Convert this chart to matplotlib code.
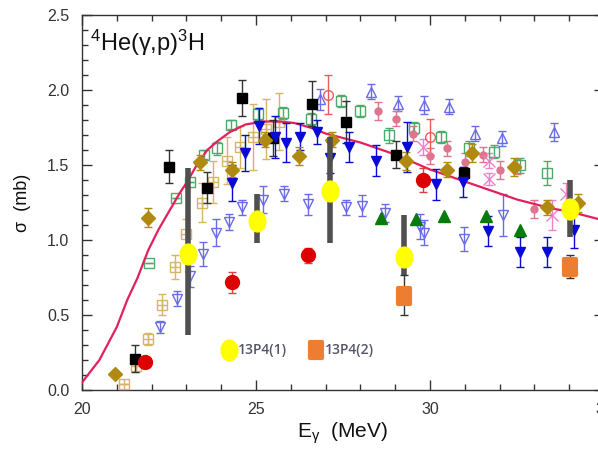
import matplotlib
matplotlib.use("Agg")
import matplotlib.pyplot as plt
from matplotlib.path import Path
from matplotlib.markers import MarkerStyle
from matplotlib.transforms import Affine2D
from matplotlib.ticker import MultipleLocator, FormatStrFormatter

plt.rcParams['font.family'] = ['Liberation Sans', 'DejaVu Sans']
plt.rcParams['mathtext.default'] = 'regular'

# ---------------- data ----------------
# theory curve
E_curve = [20.0, 20.5, 21.0, 21.3, 21.6, 21.9, 22.2, 22.5, 22.8, 23.0, 23.3, 23.6, 23.9,
           24.25, 24.7, 25.2, 25.7, 26.1, 26.55, 27.0, 27.5, 28.0, 28.5, 29.0, 29.5,
           30.0, 30.5, 31.0, 31.5, 32.0, 32.5, 33.0, 33.5, 34.0, 34.5, 35.0]
S_curve = [0.05, 0.20, 0.42, 0.60, 0.75, 0.93, 1.07, 1.19, 1.31, 1.38, 1.50, 1.60, 1.66,
           1.72, 1.77, 1.79, 1.79, 1.78, 1.75, 1.71, 1.68, 1.65, 1.61, 1.57, 1.52,
           1.47, 1.43, 1.39, 1.35, 1.31, 1.27, 1.24, 1.21, 1.19, 1.16, 1.13]

# black filled squares
E_blk = [21.52, 22.50, 23.60, 24.60, 25.50, 26.60, 27.60, 29.02, 30.98]
S_blk = [0.21, 1.49, 1.35, 1.95, 1.68, 1.91, 1.79, 1.57, 1.45]
D_blk = [0.09, 0.11, 0.10, 0.12, 0.12, 0.15, 0.14, 0.09, 0.04]

# red filled circles
E_red = [21.80, 24.30, 26.50, 29.80]
S_red = [0.19, 0.72, 0.90, 1.40]
D_red = [0.0, 0.07, 0.05, 0.08]

# gold diamonds
E_dia = [20.95, 21.90, 23.38, 24.30, 25.26, 26.24, 27.18, 29.31, 30.50, 31.20, 32.40, 33.36, 34.25]
S_dia = [0.11, 1.15, 1.52, 1.47, 1.67, 1.56, 1.67, 1.53, 1.47, 1.58, 1.49, 1.22, 1.25]
D_dia = [0.0, 0.065, 0.05, 0.05, 0.05, 0.06, 0.05, 0.06, 0.05, 0.06, 0.06, 0.05, 0.06]

# blue filled down triangles
E_bdt = [24.30, 24.68, 25.09, 25.55, 25.85, 26.26, 26.76, 27.13, 27.68, 28.45, 29.34,
         30.17, 30.95, 31.67, 32.59, 33.36, 34.14]
S_bdt = [1.38, 1.58, 1.76, 1.69, 1.65, 1.69, 1.72, 1.55, 1.62, 1.53, 1.62,
         1.37, 1.39, 1.06, 0.92, 0.92, 1.07]
D_bdt = [0.12, 0.12, 0.12, 0.14, 0.13, 0.09, 0.08, 0.10, 0.10, 0.10, 0.17,
         0.10, 0.10, 0.10, 0.10, 0.10, 0.12]

# blue open down triangles
E_odt = [22.24, 22.73, 23.10, 23.48, 23.85, 24.22, 24.60, 25.20, 25.80, 26.50, 27.60,
         28.05, 28.70, 29.70, 29.83, 30.98, 32.10]
S_odt = [0.42, 0.61, 0.76, 0.91, 1.05, 1.12, 1.22, 1.27, 1.31, 1.24, 1.22,
         1.23, 1.18, 1.09, 1.05, 1.01, 1.17]
D_odt = [0.04, 0.05, 0.07, 0.08, 0.09, 0.05, 0.05, 0.09, 0.05, 0.07, 0.05,
         0.07, 0.06, 0.08, 0.08, 0.08, 0.14]

# blue open up triangles
E_out = [26.84, 28.30, 29.08, 29.83, 30.55, 31.30, 32.07, 33.56]
S_out = [1.94, 1.99, 1.91, 1.90, 1.89, 1.71, 1.68, 1.72]
D_out = [0.07, 0.05, 0.05, 0.06, 0.05, 0.05, 0.05, 0.06]

# green open squares
E_gsq = [21.93, 22.70, 23.10, 23.50, 23.88, 24.28, 25.05, 25.78, 26.58, 27.45, 28.00,
         28.82, 29.55, 30.32, 31.12, 31.84, 32.59, 33.36]
S_gsq = [0.85, 1.28, 1.39, 1.57, 1.61, 1.77, 1.84, 1.85, 1.81, 1.93, 1.86,
         1.70, 1.75, 1.69, 1.61, 1.59, 1.50, 1.45]
D_gsq = [0.0, 0.0, 0.0, 0.03, 0.04, 0.03, 0.04, 0.04, 0.04, 0.04, 0.04,
         0.05, 0.04, 0.04, 0.05, 0.04, 0.05, 0.08]

# tan crossed squares
E_tsq = [21.20, 21.55, 21.90, 22.30, 22.67, 23.00, 23.45, 23.77, 24.17, 24.54, 24.91, 25.30, 25.66]
S_tsq = [0.04, 0.16, 0.34, 0.57, 0.82, 1.04, 1.25, 1.39, 1.53, 1.62, 1.69, 1.74, 1.79]
D_tsq = [0.0, 0.04, 0.04, 0.07, 0.08, 0.10, 0.13, 0.14, 0.16, 0.14, 0.22, 0.20, 0.19]

# pink filled circles
E_pci = [28.50, 29.02, 29.51, 30.00, 30.50, 31.00, 31.52, 32.00, 32.50, 32.99]
S_pci = [1.86, 1.81, 1.71, 1.56, 1.61, 1.52, 1.57, 1.47, 1.49, 1.21]
D_pci = [0.06, 0.05, 0.05, 0.05, 0.05, 0.06, 0.05, 0.06, 0.05, 0.06]

# pink crosses
E_pxx = [29.80, 31.70, 31.70, 33.50, 33.90]
S_pxx = [1.62, 1.53, 1.41, 1.17, 1.31]
D_pxx = [0.05, 0.05, 0.04, 0.10, 0.07]

# red open circles
E_roc = [27.07, 30.00]
S_roc = [1.97, 1.69]
D_roc = [0.13, 0.12]

# green filled up triangles
E_gtr = [28.59, 29.60, 30.40, 31.60, 32.59]
S_gtr = [1.15, 1.14, 1.16, 1.16, 1.07]

# 13P4(1)
E_p1 = [23.05, 25.03, 27.13, 29.25, 34.02]
S_p1 = [0.91, 1.13, 1.33, 0.89, 1.21]
LO_p1 = [0.37, 0.98, 0.98, 0.77, 1.02]
HI_p1 = [1.48, 1.31, 1.69, 1.17, 1.40]

# 13P4(2)
E_p2 = [29.25, 34.02]
S_p2 = [0.63, 0.82]
LO_p2 = [0.50, 0.75]
HI_p2 = [0.77, 0.90]

legend_labels = ["13P4(1)", "13P4(2)"]

# ---------------- figure ----------------
fig = plt.figure(figsize=(5.98, 4.5), dpi=100)
ax = fig.add_axes([82/598, 60/450, 522/598, 375/450])
ax.set_xlim(20, 35)
ax.set_ylim(0, 2.5)


def series(E, S, D, marker, ms, color, mfc=None, mew=1.0, z=3, ecolor=None):
    ax.errorbar(E, S, yerr=D, fmt=marker, ms=ms, color=color,
                mfc=(color if mfc is None else mfc), mec=color, mew=mew,
                ecolor=(color if ecolor is None else ecolor), elinewidth=1.0,
                capsize=3, capthick=1.0, zorder=z)


series(E_tsq, S_tsq, D_tsq, 's', 6.5, '#d8b466', mfc='none', z=3)
ax.plot(E_tsq, S_tsq, '+', ms=6.5, mew=1.0, color='#d8b466', zorder=3, ls='none')
series(E_gsq, S_gsq, D_gsq, 's', 6.5, '#4cab68', mfc='none', z=3)
series(E_out, S_out, D_out, '^', 7.5, '#6b6be8', mfc='none', z=3)
series(E_odt, S_odt, D_odt, 'v', 7.5, '#6b6be8', mfc='none', z=3)
series(E_pci, S_pci, D_pci, 'o', 5.0, '#dd7590', z=3)
series(E_pxx, S_pxx, D_pxx, 'x', 9, '#ee82c8', z=3)
series(E_roc, S_roc, D_roc, 'o', 7.0, '#ee5a5a', mfc='none', z=3)

ax.plot(E_curve, S_curve, '-', color='#e2205c', lw=1.6, zorder=4)

series(E_blk, S_blk, D_blk, 's', 6.5, '#000000', z=5, ecolor='#333333')
series(E_bdt, S_bdt, D_bdt, 'v', 7.5, '#0a0ad8', z=5)
series(E_dia, S_dia, D_dia, 'D', 7.5, '#b08a10', z=5)
ax.plot(E_gtr, S_gtr, '^', ms=8, color='#0a7a0a', ls='none', zorder=5)
series(E_red, S_red, D_red, 'o', 10, '#dd0000', z=5, ecolor='#e04040')

# 13P4 points
ax.vlines(E_p1, LO_p1, HI_p1, color='#505050', lw=4.0, zorder=6)
ax.errorbar(E_p2, S_p2, yerr=[[s - l for s, l in zip(S_p2, LO_p2)],
                              [h - s for s, h in zip(S_p2, HI_p2)]],
            fmt='none', ecolor='#333333', elinewidth=1.0, capsize=3, zorder=6)

ell = Path.unit_circle().transformed(Affine2D().scale(0.8, 1.0))
sq_path = Path([(-0.4, -0.5), (0.4, -0.5), (0.4, 0.5), (-0.4, 0.5), (-0.4, -0.5)],
               [Path.MOVETO, Path.LINETO, Path.LINETO, Path.LINETO, Path.CLOSEPOLY])
sq = MarkerStyle(sq_path, joinstyle='round')

ax.plot(E_p1, S_p1, ls='none', marker=ell, ms=15, mfc='#ffff00', mec='#ffff00', zorder=7)
ax.plot(E_p2, S_p2, ls='none', marker=sq, ms=11.5, mfc='#ed7d31', mec='#ed7d31',
        mew=3, zorder=7)

# manual legend
ax.plot([0.2816], [0.1067], transform=ax.transAxes, marker=ell, ms=15,
        mfc='#ffff00', mec='#ffff00', ls='none', clip_on=False, zorder=8)
ax.text(0.2995, 0.1067, legend_labels[0], transform=ax.transAxes, va='center', ha='left',
        fontsize=10, color='#55556a', family=['Open Sans', 'DejaVu Sans'], fontweight='semibold')
ax.plot([0.448], [0.1067], transform=ax.transAxes, marker=sq, ms=11.5,
        mfc='#ed7d31', mec='#ed7d31', mew=3, ls='none', clip_on=False, zorder=8)
ax.text(0.4655, 0.1067, legend_labels[1], transform=ax.transAxes, va='center', ha='left',
        fontsize=10, color='#55556a', family=['Open Sans', 'DejaVu Sans'], fontweight='semibold')

# title in plot
ax.text(0.015, 0.925, r"$^{4}$He(γ,p)$^{3}$H", transform=ax.transAxes,
        fontsize=17, va='center', ha='left', color='#111111')

# axes styling
ax.xaxis.set_major_locator(MultipleLocator(5))
ax.xaxis.set_minor_locator(MultipleLocator(1))
ax.yaxis.set_major_locator(MultipleLocator(0.5))
ax.yaxis.set_minor_locator(MultipleLocator(0.1))
ax.yaxis.set_major_formatter(FormatStrFormatter('%.1f'))
ax.tick_params(which='both', direction='in', top=True, right=True, colors='#333333',
               labelsize=11.5, width=1.0)
ax.tick_params(which='major', length=7, pad=9)
ax.tick_params(which='minor', length=4)
for sp in ax.spines.values():
    sp.set_color('#333333')
    sp.set_linewidth(1.0)

ax.set_xlabel(r"E$_{γ}$  (MeV)", fontsize=15, labelpad=2, color='#111111')
ax.set_ylabel("σ  (mb)", fontsize=13, labelpad=12, color='#111111')

fig.savefig("out.png", dpi=100)
